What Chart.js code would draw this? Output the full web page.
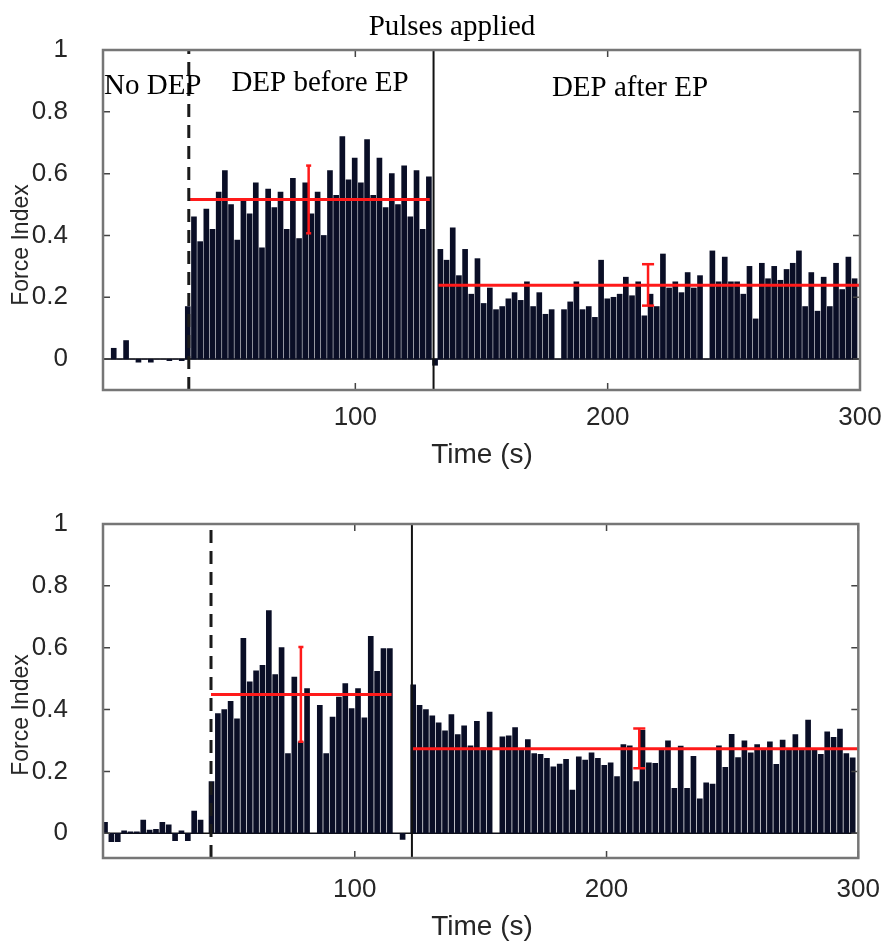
<!DOCTYPE html>
<html>
<head>
<meta charset="utf-8">
<title>Force Index</title>
<script src="https://cdn.jsdelivr.net/npm/chart.js@4.4.1/dist/chart.umd.min.js"></script>
<style>
  body { margin: 0; background: #fff; }
  #wrap { position: relative; width: 888px; height: 945px; }
  canvas { position: absolute; left: 0; }
</style>
</head>
<body>
<div id="wrap">
  <canvas id="top-chart" width="888" height="475" style="top:0"></canvas>
  <canvas id="bottom-chart" width="888" height="470" style="top:475px"></canvas>
</div>
<script>
'use strict';
// axis ticks
var timeTicks = [100, 200, 300];
var forceTicks = [0, 0.2, 0.4, 0.6, 0.8, 1];

// top plot, force index per sample (s)
var topStep = 2.45;
var topNoDepStart = 1.8;
var topNoDep = [0, 0.035, 0, 0.06, 0, -0.01, 0, -0.01, 0, 0, -0.005, 0, -0.005];
var topBeforeStart = 33.6;
var topBefore = [0.17, 0.46, 0.38, 0.485, 0.42, 0.54, 0.61, 0.50, 0.385, 0.51,
  0.47, 0.57, 0.36, 0.55, 0.49, 0.54, 0.42, 0.585, 0.39, 0.57,
  0.47, 0.54, 0.40, 0.61, 0.53, 0.72, 0.58, 0.65, 0.57, 0.71,
  0.53, 0.65, 0.49, 0.60, 0.50, 0.625, 0.46, 0.61, 0.42, 0.59, -0.02];
var topAfterStart = 133.7;
var topAfter = [0.355, 0.32, 0.425, 0.27, 0.355, 0.21, 0.325, 0.18, 0.23, 0.16,
  0.17, 0.195, 0.215, 0.19, 0.25, 0.17, 0.215, 0.145, 0.16, 0,
  0.16, 0.185, 0.25, 0.16, 0.17, 0.135, 0.32, 0.195, 0.20, 0.21,
  0.265, 0.205, 0.25, 0.14, 0.21, 0.17, 0.34, 0.23, 0.25, 0.215,
  0.28, 0.23, 0.27, 0, 0.35, 0.25, 0.33, 0.25, 0.25, 0.21,
  0.30, 0.13, 0.31, 0.26, 0.30, 0.255, 0.29, 0.31, 0.35, 0.17,
  0.28, 0.155, 0.265, 0.17, 0.31, 0.225, 0.33, 0.26];
var topDepOn = 34;        // dashed line
var topPulses = 131;      // solid line
var topMeans = [0.516, 0.239];
var topMeanFrom = [34.5, 133];
var topMeanTo = [129.5, 300];
var topErrAt = [81.5, 216];
var topErrLow = [0.407, 0.173];
var topErrHigh = [0.626, 0.307];

// bottom plot
var botStep = 2.53;
var botNoDepStart = 0.8;
var botNoDep = [0.035, -0.027, -0.027, 0.008, 0.005, 0.005, 0.043, 0.01, 0.013, 0.035,
  0.027, -0.024, 0.008, -0.024, 0.072, 0.043];
var botBeforeStart = 43.1;
var botBefore = [0.167, 0.387, 0.40, 0.427, 0.37, 0.63, 0.49, 0.525, 0.543, 0.72,
  0.513, 0.60, 0.258, 0.505, 0.296, 0.468, 0, 0.414, 0.258, 0.376,
  0.44, 0.484, 0.403, 0.468, 0.373, 0.637, 0.524, 0.597, 0.597, 0, -0.02];
var botAfterStart = 123.2;
var botAfter = [0.48, 0.414, 0.40, 0.38, 0.357, 0.331, 0.384, 0.319, 0.347, 0.283,
  0.362, 0.276, 0.392, 0, 0.312, 0.315, 0.342, 0.269, 0.303, 0.258,
  0.255, 0.242, 0.215, 0.224, 0.239, 0.14, 0.247, 0.237, 0.26, 0.242,
  0.22, 0.228, 0.183, 0.287, 0.283, 0.167, 0.333, 0.228, 0.226, 0.269,
  0.299, 0.145, 0.282, 0.145, 0.249, 0.111, 0.163, 0.159, 0.283, 0.213,
  0.32, 0.245, 0.299, 0.26, 0.287, 0.269, 0.296, 0.223, 0.301, 0.271,
  0.319, 0.271, 0.366, 0.271, 0.255, 0.328, 0.31, 0.337, 0.258, 0.244];
var botDepOn = 42.9;
var botPulses = 122.7;
var botMeans = [0.449, 0.273];
var botMeanFrom = [42.9, 123];
var botMeanTo = [114.6, 300];
var botErrAt = [78.6, 213];
var botErrLow = [0.296, 0.21];
var botErrHigh = [0.602, 0.339];

var sansFont = '"Liberation Sans", Arial, Helvetica, sans-serif';
var serifFont = '"Liberation Serif", "Times New Roman", serif';
var barColor = '#0a0e26';
var red = '#ff1a1a';

function toPoints(start, step, values) {
  var pts = [];
  for (var i = 0; i < values.length; i++) {
    pts.push({ x: start + step * i, y: values[i] });
  }
  return pts;
}

function lineSet(points, color, width, dash) {
  return {
    type: 'line',
    data: points,
    borderColor: color,
    borderWidth: width,
    borderDash: dash || [],
    pointRadius: 0,
    fill: false,
    order: 1
  };
}

// mean lines and error bars in red
function redSets(means, from, to, errAt, low, high, capHalf) {
  var sets = [];
  for (var i = 0; i < means.length; i++) {
    sets.push(lineSet([{ x: from[i], y: means[i] }, { x: to[i], y: means[i] }], red, 3));
    sets.push(lineSet([{ x: errAt[i], y: low[i] }, { x: errAt[i], y: high[i] }], red, 2.5));
    sets.push(lineSet([{ x: errAt[i] - capHalf[i], y: high[i] }, { x: errAt[i] + capHalf[i], y: high[i] }], red, 2.5));
    sets.push(lineSet([{ x: errAt[i] - capHalf[i], y: low[i] }, { x: errAt[i] + capHalf[i], y: low[i] }], red, 2.5));
  }
  return sets;
}

// box, inward ticks and the zero baseline like matlab
var framePlugin = {
  id: 'frame',
  beforeDatasetsDraw: function (chart) {
    var ctx = chart.ctx, a = chart.chartArea;
    var y0 = chart.scales.y.getPixelForValue(0);
    ctx.save();
    ctx.strokeStyle = '#111';
    ctx.lineWidth = 1.5;
    ctx.beginPath();
    ctx.moveTo(a.left, y0);
    ctx.lineTo(a.right, y0);
    ctx.stroke();
    ctx.restore();
  },
  afterDatasetsDraw: function (chart) {
    var ctx = chart.ctx, a = chart.chartArea;
    var xs = chart.scales.x, ys = chart.scales.y;
    ctx.save();
    ctx.strokeStyle = '#444';
    ctx.lineWidth = 1.5;
    ctx.beginPath();
    timeTicks.forEach(function (t) {
      var px = xs.getPixelForValue(t);
      ctx.moveTo(px, a.bottom); ctx.lineTo(px, a.bottom - 7);
      ctx.moveTo(px, a.top); ctx.lineTo(px, a.top + 7);
    });
    forceTicks.forEach(function (v) {
      var py = ys.getPixelForValue(v);
      ctx.moveTo(a.left, py); ctx.lineTo(a.left + 7, py);
      ctx.moveTo(a.right, py); ctx.lineTo(a.right - 7, py);
    });
    ctx.stroke();
    ctx.strokeStyle = '#767676';
    ctx.lineWidth = 2.5;
    ctx.strokeRect(a.left, a.top, a.right - a.left, a.bottom - a.top);
    ctx.restore();
  }
};

// texts: axis titles and region notes
var notesPlugin = {
  id: 'notes',
  afterDraw: function (chart, args, opts) {
    var ctx = chart.ctx;
    ctx.save();
    (opts.items || []).forEach(function (n) {
      ctx.font = n.font;
      ctx.fillStyle = n.color || '#000';
      ctx.textAlign = n.align || 'center';
      ctx.textBaseline = 'middle';
      ctx.save();
      ctx.translate(n.x, n.y);
      if (n.rotate) ctx.rotate(n.rotate);
      ctx.fillText(n.text, 0, 0);
      ctx.restore();
    });
    ctx.restore();
  }
};

function makeChart(canvasId, bars, depOn, pulses, reds, yMin, pad, xHeight, xPad, notes) {
  var vertical = [
    lineSet([{ x: depOn, y: yMin }, { x: depOn, y: 1 }], '#1a1a1a', 3, [13, 8]),
    lineSet([{ x: pulses, y: yMin }, { x: pulses, y: 1 }], '#111', 2)
  ];
  new Chart(document.getElementById(canvasId), {
    type: 'bar',
    data: {
      datasets: [{
        type: 'bar',
        data: bars,
        backgroundColor: barColor,
        borderWidth: 0,
        barThickness: 5,
        order: 3
      }].concat(vertical, reds)
    },
    options: {
      responsive: false,
      animation: false,
      layout: { padding: pad },
      plugins: {
        legend: { display: false },
        tooltip: { enabled: false },
        notes: { items: notes }
      },
      scales: {
        x: {
          type: 'linear',
          min: 0,
          max: 300,
          offset: false,
          grid: { display: false },
          border: { display: false },
          afterBuildTicks: function (scale) {
            scale.ticks = timeTicks.map(function (t) { return { value: t }; });
          },
          afterFit: function (scale) { scale.height = xHeight; },
          ticks: {
            padding: xPad,
            color: '#262626',
            font: { family: sansFont, size: 26 },
            maxRotation: 0
          }
        },
        y: {
          min: yMin,
          max: 1,
          grid: { display: false },
          border: { display: false },
          afterBuildTicks: function (scale) {
            scale.ticks = forceTicks.map(function (v) { return { value: v }; });
          },
          afterFit: function (scale) { scale.width = 103; },
          ticks: {
            padding: 27,
            color: '#262626',
            font: { family: sansFont, size: 26 },
            callback: function (v) { return String(+v.toFixed(1)); }
          }
        }
      }
    },
    plugins: [framePlugin, notesPlugin]
  });
}

var titleFont = '28px ' + sansFont;
var sideFont = '23px ' + sansFont;
var noteFont = '29px ' + serifFont;

makeChart('top-chart',
  toPoints(topNoDepStart, topStep, topNoDep)
    .concat(toPoints(topBeforeStart, topStep, topBefore))
    .concat(toPoints(topAfterStart, topStep, topAfter)),
  topDepOn, topPulses,
  redSets(topMeans, topMeanFrom, topMeanTo, topErrAt, topErrLow, topErrHigh, [1, 2.4]),
  -0.1, { left: 0, right: 28, top: 50, bottom: 0 }, 85, 4,
  [
    { text: 'Pulses applied', x: 452, y: 27, font: noteFont },
    { text: 'No DEP', x: 104, y: 86, font: noteFont, align: 'left' },
    { text: 'DEP before EP', x: 320, y: 83, font: noteFont },
    { text: 'DEP after EP', x: 630, y: 88, font: noteFont },
    { text: 'Time (s)', x: 482, y: 455, font: titleFont, color: '#262626' },
    { text: 'Force Index', x: 22, y: 245, font: sideFont, color: '#262626', rotate: -Math.PI / 2 }
  ]);

makeChart('bottom-chart',
  toPoints(botNoDepStart, botStep, botNoDep)
    .concat(toPoints(botBeforeStart, botStep, botBefore))
    .concat(toPoints(botAfterStart, botStep, botAfter)),
  botDepOn, botPulses,
  redSets(botMeans, botMeanFrom, botMeanTo, botErrAt, botErrLow, botErrHigh, [1, 2.4]),
  -0.08, { left: 0, right: 28, top: 49, bottom: 0 }, 87, 8,
  [
    { text: 'Time (s)', x: 482, y: 452, font: titleFont, color: '#262626' },
    { text: 'Force Index', x: 22, y: 240, font: sideFont, color: '#262626', rotate: -Math.PI / 2 }
  ]);
</script>
</body>
</html>
